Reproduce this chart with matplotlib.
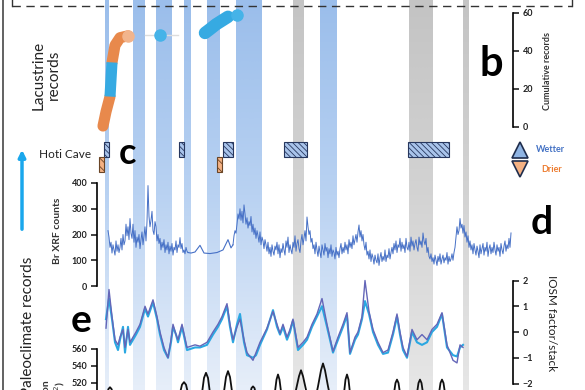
import numpy as np
import matplotlib.pyplot as plt
from matplotlib.colors import LinearSegmentedColormap

plt.rcParams['font.family'] = ['Lato', 'DejaVu Sans']
plt.rcParams['hatch.linewidth'] = 0.6

W, H = 585, 390
T0, T1 = -100, 485   # ka at the left / right figure edge

# ---- data (ages in ka) ----
wet_bands = [(5, 9), (33, 45), (56, 72), (84, 91), (107, 120), (136, 162), (220, 237)]
grey_bands = [(193, 204), (309, 333), (363, 369)]

# lacustrine cumulative records
lac_t = [3, 6, 10, 12, 15, 20, 28]
lac_n = [0.5, 8, 16, 34, 43, 47, 48]
lac_dry1 = slice(0, 3)
lac_wet = slice(2, 4)
lac_dry2 = slice(3, 7)
lac_t2 = [105, 110, 116, 122, 128]
lac_n2 = [49.5, 51.5, 54, 56, 58]
lac_pts_t = [60, 137]
lac_pts_n = [48.4, 59]

# Hoti cave growth phases
hoti_wet = [(4, 9), (79, 84), (123, 133), (184, 207), (308, 349)]
hoti_dry = [(-1, 4), (117, 122)]

# Br XRF counts
xrf_ta = np.arange(8, 89)
xrf_a = [215, 190, 150, 170, 128, 160, 140, 120, 175, 135,
         160, 130, 150, 185, 140, 200, 160, 175, 240, 195,
         230, 180, 262, 205, 185, 240, 170, 215, 150, 190,
         170, 200, 145, 180, 210, 160, 195, 230, 175, 250,
         390, 270, 230, 255, 290, 215, 200, 250, 230, 175,
         200, 165, 185, 140, 170, 150, 180, 130, 160, 140,
         170, 125, 155, 135, 165, 120, 150, 140, 175, 130,
         160, 150, 188, 145, 165, 130, 140, 125, 150, 135,
         130]
xrf_tb = [91, 95, 100, 104, 110, 117, 123, 128, 131]
xrf_b = [128, 132, 158, 128, 126, 130, 140, 180, 148]
xrf_tc = np.arange(133, 412)
xrf_c = [160, 195, 215, 205, 240, 280, 260, 300, 255, 290,
         245, 315, 280, 240, 265, 225, 250, 235, 270, 210,
         240, 200, 225, 185, 215, 195, 170, 210, 160, 190,
         175, 145, 180, 160, 135, 170, 125, 150, 115, 160,
         135, 120, 155, 140, 170, 125, 160, 110, 145, 130,
         165, 140, 120, 175, 150, 190, 130, 160, 140, 125,
         170, 150, 195, 135, 165, 180, 145, 130, 175, 200,
         160, 185, 215, 175, 268, 230, 200, 215, 170, 185,
         145, 160, 125, 170, 140, 115, 155, 130, 110, 160,
         140, 120, 165, 135, 150, 110, 145, 125, 160, 115,
         140, 130, 105, 150, 120, 135, 110, 145, 165, 125,
         150, 130, 170, 140, 160, 125, 180, 150, 170, 145,
         195, 160, 180, 200, 170, 210, 237, 190, 215, 175,
         200, 160, 140, 170, 120, 135, 105, 140, 95, 125,
         110, 85, 120, 100, 90, 125, 80, 110, 130, 95,
         115, 100, 140, 95, 120, 110, 145, 105, 130, 150,
         125, 165, 140, 175, 130, 160, 150, 185, 135, 170,
         145, 160, 130, 185, 150, 140, 170, 135, 190, 155,
         175, 140, 165, 180, 150, 135, 190, 160, 175, 150,
         206, 175, 160, 185, 130, 150, 115, 105, 125, 95,
         110, 85, 120, 100, 80, 115, 95, 125, 85, 105,
         120, 90, 110, 100, 130, 85, 115, 95, 105, 125,
         100, 130, 150, 190, 230, 200, 215, 262, 225, 240,
         205, 235, 190, 210, 170, 195, 150, 175, 140, 160,
         125, 165, 140, 120, 155, 135, 110, 160, 125, 145,
         165, 120, 150, 135, 170, 115, 145, 160, 125, 150,
         130, 170, 140, 120, 160, 135, 150, 115, 165, 140,
         125, 155, 175, 135, 160, 145, 185, 150, 206]

# IOSM factor / stack
iosm_t = [6, 9, 12, 15, 18, 20, 23, 25, 28, 30, 33, 36, 40, 45, 48, 53, 57, 60, 64, 68,
          71, 73, 76, 78, 82, 87, 95, 100, 107, 113, 118, 122, 127, 130, 133, 137, 140,
          144, 147, 153, 156, 160, 167, 173, 177, 180, 183, 187, 190, 193, 198, 203, 207,
          212, 217, 222, 227, 233, 238, 243, 247, 250, 255, 258, 262, 265, 269, 273, 278,
          283, 288, 293, 297, 300, 303, 307, 312, 317, 322, 327, 332, 337, 342, 347, 353,
          357, 360, 363]
iosm_factor = [0.15, 1.65, 0.6, -0.3, -0.5, -0.2, 0.1, -0.6, 0.1, -0.4, -0.2, 0.0, 0.3,
               1.0, 0.7, 1.25, 0.6, 0.0, -0.6, -1.0, -0.3, 0.3, -0.1, -0.3, 0.3, -0.6,
               -0.5, -0.55, -0.4, 0.0, 0.3, 0.6, 1.1, 0.3, -0.3, 0.2, 0.5, -0.3, -0.8,
               -1.1, -0.8, -0.4, 0.15, 0.8, 0.3, -0.05, 0.3, -0.2, 0.1, 0.5, -0.6, -0.4,
               -0.2, 0.3, 0.7, 1.3, 0.3, -0.75, -0.2, 0.3, 0.75, -0.8, -0.2, 0.0, 0.6,
               2.0, 0.8, 0.1, -0.4, -0.8, -0.7, 0.0, 0.7, 0.0, -0.6, -0.95, 0.1, -0.3,
               -0.1, -0.3, 0.1, 0.3, 0.75, -0.5, -1.1, -1.2, -0.5, -0.6]
iosm_stack = [0.5, 1.3, 0.5, -0.4, -0.7, -0.3, 0.2, -0.8, 0.2, -0.5, -0.3, -0.1, 0.2,
              0.9, 0.6, 1.15, 0.5, -0.1, -0.7, -1.0, -0.4, 0.2, -0.1, -0.4, 0.2, -0.7,
              -0.6, -0.6, -0.5, -0.1, 0.2, 0.5, 1.0, 0.2, -0.4, 0.3, 0.7, -0.4, -0.9,
              -1.0, -0.9, -0.5, 0.1, 0.85, 0.2, -0.1, 0.2, -0.3, 0.0, 0.45, -0.7, -0.5,
              -0.3, 0.2, 0.6, 1.0, 0.2, -0.8, -0.3, 0.2, 0.65, -0.85, -0.3, -0.1, 0.5,
              1.2, 0.7, 0.0, -0.5, -0.85, -0.8, -0.1, 0.6, -0.1, -0.7, -1.0, 0.0, -0.4,
              -0.5, -0.4, 0.0, 0.2, 0.7, -0.6, -0.9, -0.95, -0.6, -0.5]

# summer insolation
ins_t = [-2, 4, 7, 8.5, 10, 11.5, 13, 16, 22, 28, 33, 38, 45, 52, 57, 62, 70, 77, 80, 82,
         84, 86, 88, 91, 96, 100, 102, 104, 106, 108, 110, 112, 118, 122, 124, 126, 128,
         130, 132, 134, 141, 147, 150, 151.5, 153, 154.5, 156, 159, 166, 172, 175, 176.5,
         178, 179.5, 181, 184, 190, 194, 196, 199, 201, 203, 206, 208, 213, 216, 218, 221,
         223, 225, 228, 230, 236, 242, 244, 245.5, 247, 248.5, 250, 252, 260, 266, 272,
         278, 285, 292, 294, 295.5, 297, 298.5, 300, 302, 308, 315, 317, 318.5, 320, 321.5,
         323, 325, 331, 337, 339, 340.5, 342, 343.5, 345, 347, 354]
ins_v = [490, 495, 508, 513, 515, 513, 508, 490, 470, 485, 500, 485, 465, 482, 502, 485,
         465, 490, 508, 518, 521, 518, 508, 490, 472, 492, 508, 526, 532, 526, 508, 492,
         470, 495, 510, 527, 534, 527, 510, 495, 470, 492, 506, 514, 516, 514, 506, 490,
         472, 495, 510, 524, 530, 524, 510, 495, 468, 500, 512, 528, 535, 528, 512, 500,
         470, 505, 516, 535, 543, 535, 516, 505, 470, 495, 508, 524, 530, 524, 508, 495,
         468, 490, 502, 490, 470, 495, 508, 520, 524, 520, 508, 495, 472, 495, 508, 520,
         524, 520, 508, 495, 472, 495, 508, 520, 524, 520, 508, 495, 475]


def lims(v1, p1, v2, p2):
    s = (v2 - v1) / (p1 - p2)
    return v1 - (H - p1) * s, v1 + p1 * s


def layer(ylim=(H, 0)):
    ax = fig.add_axes([0, 0, 1, 1])
    ax.set_xlim(T0, T1)
    ax.set_ylim(*ylim)
    ax.patch.set_alpha(0)
    for s in ax.spines.values():
        s.set_visible(False)
    ax.set_xticks([])
    ax.set_yticks([])
    return ax


def tick_style(ax):
    ax.tick_params(axis='y', direction='out', length=4, width=1.2, labelsize=6.5, pad=3,
                   colors='#222222')
    for lb in ax.get_yticklabels():
        lb.set_fontweight('bold')


fig = plt.figure(figsize=(5.85, 3.9), dpi=100)

# ---- shaded bands ----
axb = layer()
grad = np.linspace(0, 1, 64).reshape(-1, 1)
blue_cm = LinearSegmentedColormap.from_list('b', ['#9BBEEB', '#B9D2F2', '#E6EEF9'])
grey_cm = LinearSegmentedColormap.from_list('g', ['#C4C4C4', '#D3D3D3', '#E6E6E6'])
for t0, t1 in wet_bands:
    axb.imshow(grad, cmap=blue_cm, extent=[t0, t1, H, 0], aspect='auto', interpolation='bilinear')
for t0, t1 in grey_bands:
    axb.imshow(grad, cmap=grey_cm, extent=[t0, t1, H, 0], aspect='auto', interpolation='bilinear')
axb.set_xlim(T0, T1)
axb.set_ylim(H, 0)

ORANGE = '#E8894C'
BLUE = '#36AAE2'

# ---- b: lacustrine records ----
ax = layer(lims(0, 127, 60, 13))
ax.plot([45, 78], [48.4, 48.4], color='#DDDDDD', lw=1)
ax.plot([100, 105], [49.3, 49.5], color='#DDDDDD', lw=1)
ax.plot(np.array(lac_t)[lac_dry1], np.array(lac_n)[lac_dry1], color=ORANGE, lw=8, solid_capstyle='round')
ax.plot(np.array(lac_t)[lac_dry2], np.array(lac_n)[lac_dry2], color=ORANGE, lw=8, solid_capstyle='round')
ax.plot(np.array(lac_t)[lac_wet], np.array(lac_n)[lac_wet], color=BLUE, lw=8, solid_capstyle='butt')
ax.plot(lac_t[-1], lac_n[-1], 'o', color='#F2B48C', ms=8)
ax.plot(lac_t2, lac_n2, color=BLUE, lw=9, solid_capstyle='round')
ax.plot(lac_pts_t, lac_pts_n, 'o', color='#45B3E8', ms=8, ls='none')
sp = ax.spines['right']
sp.set_visible(True)
sp.set_position(('data', 413))
sp.set_bounds(0, 60)
sp.set_linewidth(1.2)
ax.yaxis.tick_right()
ax.set_yticks([0, 20, 40, 60])
tick_style(ax)

# ---- c: Hoti cave ----
ax = layer(lims(0, 165, 1, 150))
ax.barh([1] * len(hoti_wet), [b - a for a, b in hoti_wet], left=[a for a, b in hoti_wet],
        height=1.0, color='#A9C4EB', edgecolor='#27375E', hatch='\\\\\\\\\\\\', lw=0.8)
ax.barh([0] * len(hoti_dry), [b - a for a, b in hoti_dry], left=[a for a, b in hoti_dry],
        height=1.0, color='#F4B183', edgecolor='#6A4526', hatch='\\\\\\\\', lw=0.8)
ax.plot([420], [1], marker='^', ms=11, mfc='#8FB4E3', mec='#1F2D4D', mew=1.2)
ax.plot([420], [-0.3], marker='v', ms=11, mfc='#F4B183', mec='#1F2D4D', mew=1.2)

# ---- d: Br XRF ----
ax = layer(lims(0, 286, 400, 183))
ax.plot(xrf_ta, xrf_a, color='#4670C6', lw=0.7)
ax.plot([88] + xrf_tb + [133], [130] + xrf_b + [160], color='#4670C6', lw=0.8)
ax.plot(xrf_tc, xrf_c, color='#4670C6', lw=0.7)
sp = ax.spines['left']
sp.set_visible(True)
sp.set_position(('data', -3))
sp.set_bounds(0, 400)
sp.set_linewidth(1.2)
ax.set_yticks([0, 100, 200, 300, 400])
tick_style(ax)

# ---- e: IOSM ----
ax = layer(lims(0, 332, 2, 280.5))
ax.plot(iosm_t, iosm_stack, color='#2AA8E2', lw=1.5)
ax.plot(iosm_t, iosm_factor, color='#6466B8', lw=1.0)
sp = ax.spines['right']
sp.set_visible(True)
sp.set_position(('data', 413))
sp.set_bounds(-2, 2)
sp.set_linewidth(1.2)
ax.yaxis.tick_right()
ax.set_yticks([-2, -1, 0, 1, 2])
tick_style(ax)

# ---- f: insolation ----
ax = layer(lims(560, 349, 520, 383))
ax.plot(ins_t, ins_v, color='#111111', lw=1.3)
sp = ax.spines['left']
sp.set_visible(True)
sp.set_position(('data', -3))
sp.set_bounds(480, 560)
sp.set_linewidth(1.2)
ax.set_yticks([520, 540, 560])
tick_style(ax)

# ---- decorations & labels (pixel coords) ----
d = fig.add_axes([0, 0, 1, 1])
d.set_xlim(0, W)
d.set_ylim(H, 0)
d.axis('off')
d.patch.set_alpha(0)
d.plot([3, 3], [0, H], color='#555555', lw=1.3)
d.plot([12, 572], [6, 6], color='#333333', lw=1, dashes=(6, 4))
d.plot([12, 12], [0, 6], color='#333333', lw=1)
d.plot([572, 572], [0, 6], color='#333333', lw=1)
d.annotate('', xy=(22, 147), xytext=(22, 232),
           arrowprops=dict(arrowstyle='-|>', color='#1AA7EC', lw=2.5, mutation_scale=10))

d.text(46, 75, 'Lacustrine\nrecords', rotation=90, ha='center', va='center', fontsize=11,
       color='#222222', linespacing=1.15)
d.text(28, 257, 'Paleoclimate records', rotation=90, ha='center', va='top', fontsize=11,
       color='#222222')
d.text(65, 155, 'Hoti Cave', ha='center', va='center', fontsize=8.5, color='#222222')
d.text(58, 231, 'Br XRF counts', rotation=90, ha='center', va='center', fontsize=7.5,
       color='#333333', fontweight='bold')
d.text(54, 402, 'Insolation\n(W m$^{-2}$)', rotation=90, ha='center', va='center',
       fontsize=7.5, color='#333333', fontweight='bold')
d.text(548, 71, 'Cumulative records', rotation=90, ha='center', va='center', fontsize=6.5,
       color='#333333', fontweight='bold')
d.text(551, 323, 'IOSM factor/stack', rotation=-90, ha='center', va='center', fontsize=8.5,
       color='#222222')
d.text(550, 150, 'Wetter', ha='center', va='center', fontsize=6.5, color='#4472C4', fontweight='bold')
d.text(552, 169, 'Drier', ha='center', va='center', fontsize=6.5, color='#ED7D31', fontweight='bold')
for s, x, y, fs in [('b', 491, 64, 30), ('c', 128, 153, 26), ('d', 542, 222, 28), ('e', 81, 320, 28)]:
    d.text(x, y, s, ha='center', va='center', fontsize=fs, fontweight='bold', color='black')

fig.savefig('out.png', dpi=100)
